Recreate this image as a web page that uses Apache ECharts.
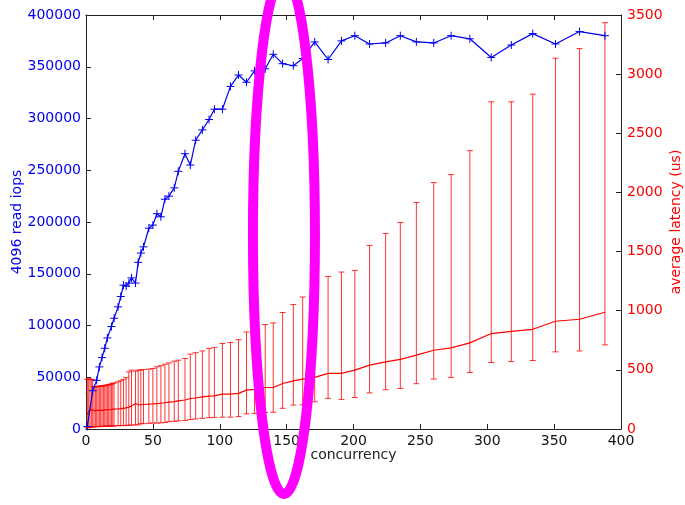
<!DOCTYPE html>
<html>
<head>
<meta charset="utf-8">
<script src="https://cdn.jsdelivr.net/npm/echarts@6/dist/echarts.min.js"></script>
<style>
  html, body { margin: 0; padding: 0; background: #fff; }
  #chart { width: 685px; height: 505px; }
</style>
</head>
<body>
<div id="chart"></div>
<script>
// read iops (left axis)
const iopsConc = [1, 5, 8, 10, 12, 14, 16, 19, 21, 24, 26, 28, 30, 32, 34, 37, 39, 41, 43, 47,
  50, 53, 56, 59, 62, 66, 69, 74, 78, 82, 87, 92, 96, 102, 108, 114, 120, 126, 134, 140,
  147, 155, 162, 171, 181, 191, 201, 212, 224, 235, 247, 260, 273, 287, 303, 318, 334, 351, 369, 388]
const iops = [2500, 37000, 47000, 60000, 69000, 78000, 88000, 99000, 107000, 118000,
  128000, 139000, 138000, 141000, 146000, 141000, 161000, 170000, 176000, 194000,
  197000, 208000, 205000, 222000, 225000, 233000, 249000, 266000, 255000, 279000,
  289000, 299000, 309000, 309000, 331000, 342000, 335000, 346000, 348000, 362000,
  353000, 351000, 358000, 374000, 357000, 375000, 380000, 372000, 373000, 380000,
  374000, 373000, 380000, 377000, 359000, 371000, 382000, 372000, 384000, 380000]

// latency (right axis, us)
const latConc = [1, 2, 3, 4, 5, 6, 7, 8, 9, 10, 11, 12, 13, 14, 15, 16, 17, 18, 19, 20,
  21, 24, 26, 28, 30, 32, 34, 37, 39, 41, 43, 47, 50, 53, 56, 59, 62, 66, 69, 74,
  78, 82, 87, 92, 96, 102, 108, 114, 120, 126, 134, 140, 147, 155, 162, 171, 181, 191,
  201, 212, 224, 235, 247, 260, 273, 287, 303, 318, 334, 351, 369, 388]
const latMean = [120, 150, 160, 165, 160, 155, 155, 158, 155, 158, 160, 158, 160, 162, 160, 163, 163, 165, 166, 168,
  165, 170, 172, 175, 178, 185, 195, 215, 205, 205, 207, 210, 212, 215, 218, 222, 228, 232, 238, 245,
  258, 262, 272, 278, 280, 295, 295, 301, 329, 335, 351, 351, 385, 407, 422, 436, 470, 470,
  498, 540, 568, 588, 624, 666, 686, 728, 807, 826, 843, 911, 928, 987]
const latHigh = [420, 425, 420, 418, 415, 360, 355, 358, 360, 362, 365, 362, 365, 368, 370, 372, 375, 378, 380, 385,
  390, 399, 408, 420, 436, 483, 498, 489, 498, 500, 503, 506, 512, 526, 535, 548, 559, 573, 582, 596,
  633, 645, 660, 681, 690, 723, 731, 755, 820, 860, 883, 897, 985, 1052, 1116, 1200, 1290, 1327,
  1341, 1552, 1653, 1746, 1915, 2083, 2151, 2353, 2766, 2766, 2831, 3135, 3216, 3435]
const latLow = [10, 12, 15, 15, 18, 18, 20, 20, 20, 22, 20, 22, 22, 22, 24, 24, 25, 25, 25, 26,
  26, 28, 28, 30, 30, 32, 32, 35, 35, 45, 45, 48, 50, 50, 52, 55, 62, 65, 68, 72,
  80, 85, 90, 95, 98, 100, 100, 105, 128, 132, 140, 142, 175, 202, 205, 230, 259, 250,
  266, 305, 332, 343, 383, 422, 436, 478, 562, 570, 579, 652, 660, 711]

const blue = '#0000ee'
const red = '#ff0000'
const font = 'DejaVu Sans'

const chart = echarts.init(document.getElementById('chart'))

// onZero off, otherwise the right/top axes get pulled onto the zero line
const axisLine = { onZero: false, lineStyle: { color: '#222', width: 1 } }
const tick = { inside: true, length: 5, lineStyle: { color: '#222' } }
const plain = (v) => String(v)

const option = {
  animation: false,
  backgroundColor: '#fff',
  grid: { left: 86, right: 64, top: 15, bottom: 76, containLabel: false, outerBoundsMode: 'none' },
  xAxis: [
    {
      type: 'value', min: 0, max: 400, interval: 50,
      name: 'concurrency', nameLocation: 'middle', nameGap: 19, nameMoveOverlap: false,
      nameTextStyle: { color: '#222', fontSize: 14, fontFamily: font },
      axisLine, axisTick: tick, splitLine: { show: false },
      axisLabel: { color: '#111', fontSize: 14, fontFamily: font, margin: 5, formatter: plain }
    },
    {
      type: 'value', min: 0, max: 400, interval: 50, position: 'top',
      axisLine, axisTick: tick, splitLine: { show: false },
      axisLabel: { show: false }
    }
  ],
  yAxis: [
    {
      type: 'value', min: 0, max: 400000, interval: 50000,
      name: '4096 read iops', nameLocation: 'middle', nameGap: 62, nameMoveOverlap: false,
      nameTextStyle: { color: blue, fontSize: 14, fontFamily: font },
      axisLine, axisTick: tick, splitLine: { show: false },
      axisLabel: { color: blue, fontSize: 14, fontFamily: font, margin: 5, formatter: plain }
    },
    {
      type: 'value', min: 0, max: 3500, interval: 500, position: 'right',
      name: 'average latency (us)', nameLocation: 'middle', nameGap: 48, nameMoveOverlap: false,
      nameTextStyle: { color: red, fontSize: 14, fontFamily: font },
      axisLine, axisTick: tick, splitLine: { show: false },
      axisLabel: { color: red, fontSize: 14, fontFamily: font, margin: 6, formatter: plain }
    }
  ],
  series: [
    {
      type: 'custom',
      xAxisIndex: 0,
      yAxisIndex: 1,
      z: 1,
      data: latConc.map((c, i) => [c, latLow[i], latHigh[i]]),
      encode: { x: 0, y: [1, 2] },
      renderItem: (params, api) => {
        const x = api.value(0)
        const lo = api.coord([x, api.value(1)])
        const hi = api.coord([x, api.value(2)])
        const hw = 3
        const style = { stroke: 'rgba(255,0,0,0.8)', lineWidth: 1 }
        return {
          type: 'group',
          children: [
            { type: 'line', shape: { x1: lo[0], y1: lo[1], x2: hi[0], y2: hi[1] }, style },
            { type: 'line', shape: { x1: lo[0] - hw, y1: lo[1], x2: lo[0] + hw, y2: lo[1] }, style },
            { type: 'line', shape: { x1: hi[0] - hw, y1: hi[1], x2: hi[0] + hw, y2: hi[1] }, style }
          ]
        }
      }
    },
    {
      type: 'line',
      xAxisIndex: 0,
      yAxisIndex: 1,
      z: 2,
      data: latConc.map((c, i) => [c, latMean[i]]),
      showSymbol: false,
      lineStyle: { color: red, width: 1.2 }
    },
    {
      type: 'line',
      xAxisIndex: 0,
      yAxisIndex: 0,
      z: 3,
      data: iopsConc.map((c, i) => [c, iops[i]]),
      symbol: 'path://M5 0 L5 10 M0 5 L10 5',
      symbolSize: 8,
      showAllSymbol: true,
      itemStyle: { color: 'none', borderColor: blue, borderWidth: 1 },
      lineStyle: { color: blue, width: 1.2 }
    }
  ]
}

chart.setOption(option)

// magenta highlight ellipse around concurrency ~150
const cx = chart.convertToPixel({ xAxisIndex: 0 }, 148)
chart.setOption({
  graphic: [{
    type: 'ellipse',
    z: 100,
    shape: { cx: cx, cy: 235, rx: 31, ry: 259 },
    style: { fill: 'none', stroke: '#ff00ff', lineWidth: 10 }
  }]
})
</script>
</body>
</html>
